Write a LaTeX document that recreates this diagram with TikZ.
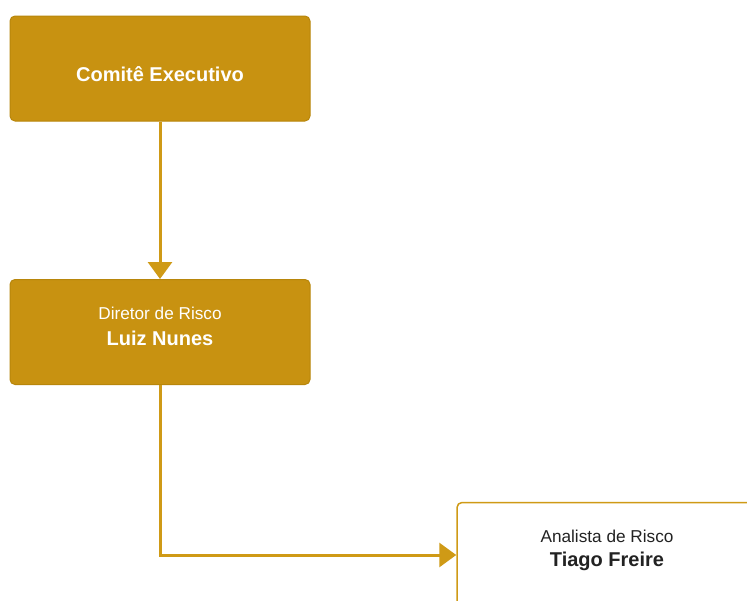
\documentclass[tikz,border=0pt]{standalone}
\usepackage{fontspec}
\setmainfont{Liberation Sans}
\usetikzlibrary{arrows.meta}
\definecolor{gold}{HTML}{C89211}
\definecolor{goldline}{HTML}{CF9A16}
\definecolor{goldedge}{HTML}{B8860B}
\definecolor{darktext}{HTML}{222222}
\tikzset{
  orgbox/.style={draw=goldedge, line width=1pt, fill=gold, rounded corners=5pt,
    minimum width=300pt, minimum height=105pt, inner sep=0pt, text=white, align=center},
  whitebox/.style={draw=goldline, line width=1.5pt, fill=white, rounded corners=5pt,
    minimum width=300pt, minimum height=105pt, inner sep=0pt, text=darktext, align=center},
  conn/.style={draw=goldline, line width=3pt,
    -{Triangle[length=17pt, width=24pt]}},
  rolefont/.style={font=\fontsize{17.2}{20}\selectfont},
  namefont/.style={font=\fontsize{20}{24}\selectfont\bfseries},
}
\begin{document}
\begin{tikzpicture}[x=1pt,y=-1pt]
\useasboundingbox (0,0) rectangle (747,600);
\begin{scope}
\clip (0,0) rectangle (747,600);
\fill[white] (0,0) rectangle (747,600);
\node[orgbox] (ce) at (160,68.5) {};
\node[text=white, namefont] (cetext) at (160,74) {Comitê Executivo};
\node[orgbox] (dr) at (160,332) {};
\node[text=white, rolefont] (drrole) at (160,313.5) {Diretor de Risco};
\node[text=white, namefont] (drname) at (160,338) {Luiz Nunes};
\node[whitebox] (ar) at (607,555) {};
\node[text=darktext, rolefont] (arrole) at (607,536.5) {Analista de Risco};
\node[text=darktext, namefont] (arname) at (607,561) {Tiago Freire};
\draw[conn] (ce.south) -- (dr.north);
\draw[conn] (dr.south) |- (ar.west);
\end{scope}
\end{tikzpicture}
\end{document}
